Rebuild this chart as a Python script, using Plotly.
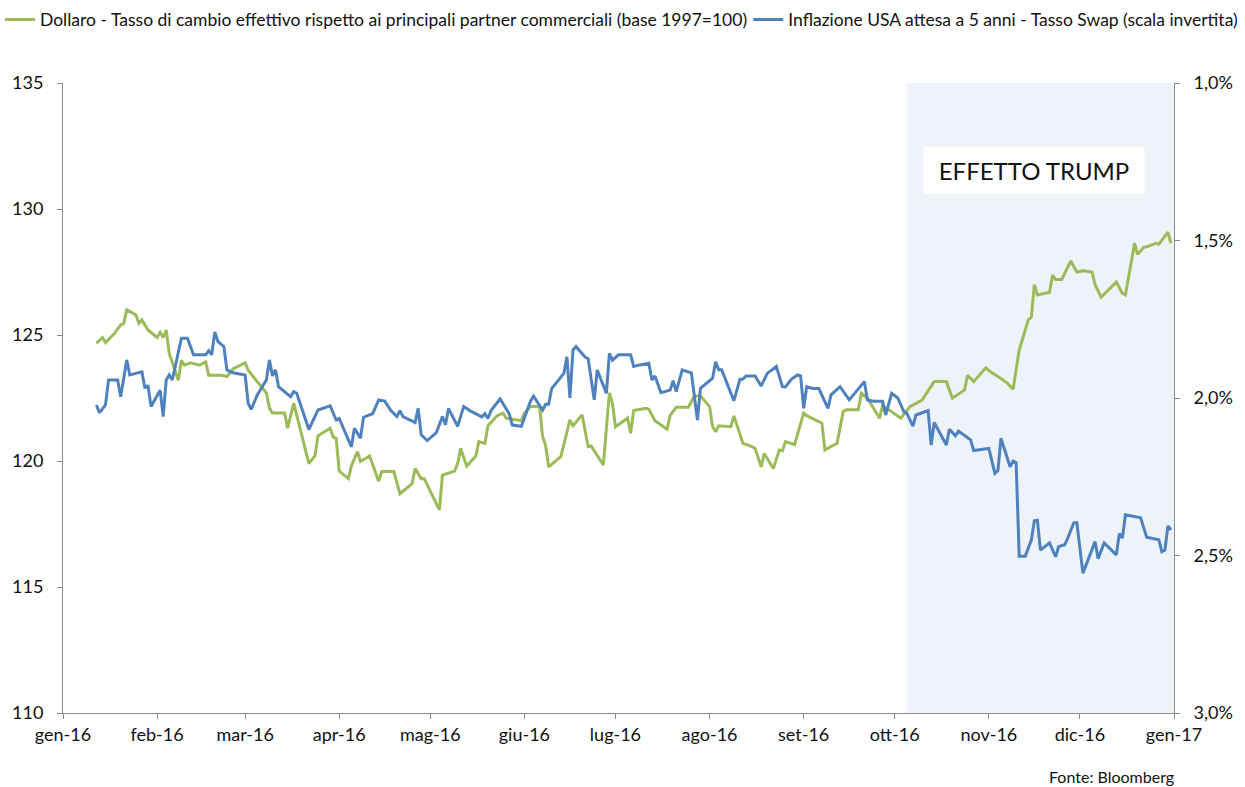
import plotly.graph_objects as go

# Dollar effective exchange rate index (base 1997=100), left axis
usd_days = [
    "01-12", "01-14", "01-15", "01-18", "01-20", "01-21", "01-22", "01-25", "01-26", "01-27",
    "01-29", "02-01", "02-02", "02-03", "02-04", "02-05", "02-08", "02-09", "02-10", "02-12",
    "02-15", "02-17", "02-18", "02-22", "02-24", "02-26", "03-01", "03-02", "03-04", "03-08",
    "03-09", "03-10", "03-14", "03-15", "03-17", "03-22", "03-24", "03-25", "03-29", "03-30",
    "03-31", "04-01", "04-04", "04-05", "04-07", "04-08", "04-11", "04-14", "04-15", "04-19",
    "04-21", "04-25", "04-26", "04-28", "04-29", "05-04", "05-05", "05-09", "05-10", "05-11",
    "05-13", "05-16", "05-17", "05-19", "05-20", "05-23", "05-25", "05-26", "05-31", "06-01",
    "06-03", "06-06", "06-07", "06-08", "06-09", "06-13", "06-16", "06-17", "06-20", "06-22",
    "06-23", "06-27", "06-29", "06-30", "07-01", "07-05", "07-06", "07-07", "07-11", "07-12",
    "07-14", "07-18", "07-19", "07-21", "07-25", "07-27", "07-29", "08-01", "08-02", "08-03",
    "08-04", "08-08", "08-09", "08-12", "08-15", "08-16", "08-18", "08-19", "08-22", "08-24",
    "08-25", "08-26", "08-29", "09-01", "09-02", "09-06", "09-07", "09-08", "09-12", "09-14",
    "09-15", "09-19", "09-20", "09-22", "09-26", "09-27", "09-29", "10-03", "10-06", "10-10",
    "10-14", "10-18", "10-20", "10-24", "10-25", "10-27", "10-31", "11-02", "11-04", "11-07",
    "11-09", "11-11", "11-14", "11-15", "11-16", "11-17", "11-21", "11-22", "11-23", "11-25",
    "11-28", "11-30", "12-02", "12-05", "12-06", "12-08", "12-13", "12-15", "12-16", "12-19",
    "12-20", "12-22", "12-23", "12-26", "12-27", "12-30", "12-31",
]
usd_index = [
    124.67, 124.9, 124.7, 125.07, 125.4, 125.46, 126.0, 125.8, 125.46, 125.6,
    125.2, 124.9, 125.1, 124.9, 125.2, 124.27, 123.2, 124.0, 123.8, 123.9,
    123.8, 123.94, 123.4, 123.4, 123.35, 123.65, 123.9, 123.6, 123.3, 122.7,
    122.1, 121.9, 121.9, 121.3, 122.3, 119.9, 120.2, 121.0, 121.3, 120.95,
    120.9, 119.6, 119.3, 119.8, 120.37, 119.98, 120.2, 119.2, 119.58, 119.58,
    118.7, 119.1, 119.7, 119.3, 119.3, 118.06, 119.44, 119.6, 119.9, 120.5,
    119.8, 120.2, 120.77, 120.7, 121.4, 121.8, 121.9, 121.7, 121.6, 121.9,
    122.16, 122.16, 120.97, 120.6, 119.77, 120.17, 121.63, 121.4, 121.83, 120.57,
    120.6, 119.84, 122.7, 122.3, 121.36, 121.7, 121.1, 122.0, 122.09, 122.05,
    121.6, 121.26, 121.8, 122.13, 122.13, 122.58, 122.58, 122.16, 121.36, 121.16,
    121.4, 121.36, 121.79, 120.7, 120.57, 120.5, 119.77, 120.3, 119.7, 120.44,
    120.4, 120.77, 120.65, 121.9, 121.8, 121.56, 121.5, 120.44, 120.7, 121.96,
    122.03, 122.03, 122.69, 122.5, 121.7, 122.2, 122.03, 121.7, 122.16, 122.42,
    123.15, 123.15, 122.49, 122.82, 123.4, 123.15, 123.7, 123.5, 123.35, 123.1,
    122.85, 124.4, 125.6, 125.7, 127.0, 126.59, 126.7, 127.38, 127.2, 127.2,
    127.94, 127.5, 127.55, 127.5, 127.0, 126.5, 127.1, 126.65, 126.59, 128.64,
    128.2, 128.48, 128.5, 128.64, 128.6, 129.08, 128.64,
]

# US 5-year inflation swap rate (%), right axis, inverted
swap_days = [
    "01-12", "01-13", "01-15", "01-16", "01-19", "01-20", "01-22", "01-23", "01-27", "01-28",
    "01-29", "01-30", "02-02", "02-03", "02-04", "02-05", "02-06", "02-09", "02-11", "02-13",
    "02-17", "02-18", "02-19", "02-20", "02-21", "02-23", "02-24", "02-26", "03-01", "03-02",
    "03-03", "03-05", "03-08", "03-09", "03-10", "03-11", "03-12", "03-16", "03-17", "03-18",
    "03-22", "03-25", "03-29", "03-31", "04-01", "04-05", "04-06", "04-08", "04-09", "04-12",
    "04-14", "04-16", "04-18", "04-20", "04-21", "04-22", "04-26", "04-27", "04-28", "04-30",
    "05-03", "05-05", "05-06", "05-07", "05-10", "05-12", "05-14", "05-18", "05-19", "05-20",
    "05-21", "05-24", "05-27", "05-28", "05-31", "06-03", "06-04", "06-07", "06-08", "06-09",
    "06-10", "06-14", "06-15", "06-16", "06-17", "06-18", "06-21", "06-22", "06-24", "06-25",
    "06-28", "06-29", "06-30", "07-02", "07-06", "07-07", "07-09", "07-12", "07-13", "07-14",
    "07-16", "07-19", "07-20", "07-21", "07-23", "07-26", "07-28", "07-29", "08-02", "08-03",
    "08-04", "08-05", "08-09", "08-11", "08-12", "08-13", "08-16", "08-18", "08-20", "08-23",
    "08-25", "08-26", "08-28", "08-30", "08-31", "09-01", "09-02", "09-04", "09-06", "09-09",
    "09-10", "09-13", "09-16", "09-21", "09-22", "09-24", "09-27", "09-28", "09-30", "10-02",
    "10-04", "10-05", "10-07", "10-08", "10-12", "10-13", "10-14", "10-18", "10-19", "10-21",
    "10-22", "10-26", "10-27", "10-31", "11-01", "11-03", "11-04", "11-05", "11-08", "11-09",
    "11-10", "11-11", "11-13", "11-15", "11-16", "11-17", "11-18", "11-21", "11-23", "11-24",
    "11-26", "11-27", "11-29", "11-30", "12-02", "12-06", "12-07", "12-09", "12-13", "12-14",
    "12-15", "12-16", "12-21", "12-23", "12-27", "12-28", "12-29", "12-30", "12-31",
]
swap_rate = [
    2.022, 2.047, 2.022, 1.943, 1.943, 1.996, 1.879, 1.927, 1.917, 1.969,
    1.96, 2.027, 1.975, 2.059, 1.943, 1.927, 1.943, 1.81, 1.81, 1.863,
    1.863, 1.85, 1.863, 1.79, 1.82, 1.837, 1.911, 1.92, 1.927, 2.017,
    2.036, 1.99, 1.943, 1.879, 1.93, 1.91, 1.964, 1.996, 1.98, 1.985,
    2.10, 2.038, 2.025, 2.07, 2.065, 2.155, 2.096, 2.128, 2.061, 2.05,
    2.006, 2.01, 2.04, 2.059, 2.04, 2.059, 2.078, 2.033, 2.117, 2.135,
    2.11, 2.059, 2.085, 2.033, 2.09, 2.027, 2.04, 2.06, 2.05, 2.065,
    2.04, 2.003, 2.05, 2.086, 2.09, 2.01, 1.994, 2.038, 2.02, 2.02,
    1.97, 1.922, 1.869, 2.0, 1.848, 1.837, 1.87, 1.875, 2.006, 1.911,
    1.985, 1.858, 1.88, 1.863, 1.863, 1.90, 1.895, 1.89, 1.943, 1.93,
    1.983, 1.975, 1.945, 1.98, 1.911, 1.92, 2.07, 1.969, 1.937, 1.885,
    1.91, 1.91, 2.009, 1.941, 1.94, 1.93, 1.93, 1.962, 1.922, 1.90,
    1.964, 1.965, 1.94, 1.927, 1.93, 2.033, 1.964, 1.97, 1.97, 2.033,
    1.99, 1.964, 2.006, 1.948, 2.006, 2.01, 2.01, 2.054, 1.985, 2.0,
    2.043, 2.049, 2.089, 2.054, 2.04, 2.149, 2.078, 2.149, 2.099, 2.12,
    2.105, 2.133, 2.167, 2.163, 2.16, 2.239, 2.23, 2.128, 2.218, 2.20,
    2.205, 2.502, 2.502, 2.451, 2.39, 2.388, 2.483, 2.46, 2.504, 2.472,
    2.466, 2.445, 2.396, 2.396, 2.556, 2.456, 2.51, 2.46, 2.498, 2.43,
    2.445, 2.371, 2.38, 2.442, 2.45, 2.488, 2.483, 2.406, 2.419,
]

month_ticks = [
    "2016-01-01", "2016-02-01", "2016-03-01", "2016-04-01", "2016-05-01", "2016-06-01",
    "2016-07-01", "2016-08-01", "2016-09-01", "2016-10-01", "2016-11-01", "2016-12-01",
    "2017-01-01",
]
month_labels = [
    "gen-16", "feb-16", "mar-16", "apr-16", "mag-16", "giu-16", "lug-16",
    "ago-16", "set-16", "ott-16", "nov-16", "dic-16", "gen-17",
]
left_ticks = [110, 115, 120, 125, 130, 135]
right_ticks = [1.0, 1.5, 2.0, 2.5, 3.0]
right_labels = ["1,0%", "1,5%", "2,0%", "2,5%", "3,0%"]

trump_start = "2016-10-05"
trump_end = "2017-01-01"

GREEN = "#9BBB59"
BLUE = "#4F81BD"
FONT = "Lato, 'Open Sans', sans-serif"
AXIS_GREY = "#8C8C8C"
TEXT = "#111111"

fig = go.Figure()

fig.add_trace(go.Scatter(
    x=["2016-" + d for d in usd_days], y=usd_index,
    mode="lines", line=dict(color=GREEN, width=3),
    name="Dollaro - Tasso di cambio effettivo rispetto ai principali partner commerciali (base 1997=100)",
    yaxis="y", legend="legend",
))
fig.add_trace(go.Scatter(
    x=["2016-" + d for d in swap_days], y=swap_rate,
    mode="lines", line=dict(color=BLUE, width=3),
    name="Inflazione USA attesa a 5 anni - Tasso Swap (scala invertita)",
    yaxis="y2", legend="legend2",
))

# highlighted post-election period
fig.add_vrect(x0=trump_start, x1=trump_end, fillcolor="#EEF3FA", opacity=1,
              line_width=0, layer="below")

fig.add_annotation(
    text="EFFETTO TRUMP", xref="paper", yref="paper", x=0.874, y=0.862,
    xanchor="center", yanchor="middle", showarrow=False,
    font=dict(family=FONT, size=24, color=TEXT),
    bgcolor="white", width=220, height=46, borderpad=0,
)
fig.add_annotation(
    text="Fonte: Bloomberg", xref="paper", yref="paper", x=1.002, y=-0.1,
    xanchor="right", yanchor="middle", showarrow=False,
    font=dict(family=FONT, size=16, color=TEXT),
)

legend_style = dict(
    orientation="h", xanchor="left", yref="container", y=0.998, yanchor="top",
    xref="container", font=dict(family=FONT, size=17.5, color=TEXT),
    itemwidth=30, bgcolor="rgba(0,0,0,0)",
)

fig.update_layout(
    width=1245, height=787,
    margin=dict(l=58, r=67, t=83, b=74),
    paper_bgcolor="white", plot_bgcolor="white",
    font=dict(family=FONT, size=18, color=TEXT),
    showlegend=True,
    legend=dict(legend_style, x=0.0),
    legend2=dict(legend_style, x=0.601),
    xaxis=dict(
        type="date", range=["2016-01-01", "2017-01-01"],
        tickmode="array", tickvals=month_ticks, ticktext=month_labels,
        showgrid=False, zeroline=False,
        showline=True, linecolor=AXIS_GREY, linewidth=1,
        ticks="outside", ticklen=5, tickcolor=AXIS_GREY,
        tickfont=dict(family=FONT, size=18, color=TEXT),
    ),
    yaxis=dict(
        range=[110, 135], tickmode="array", tickvals=left_ticks,
        showgrid=False, zeroline=False,
        showline=True, linecolor=AXIS_GREY, linewidth=1,
        ticks="outside", ticklen=5, tickcolor=AXIS_GREY,
        tickfont=dict(family=FONT, size=18, color=TEXT),
        ticklabelstandoff=10,
    ),
    yaxis2=dict(
        overlaying="y", side="right", range=[3.0, 1.0],
        tickmode="array", tickvals=right_ticks, ticktext=right_labels,
        showgrid=False, zeroline=False,
        showline=True, linecolor=AXIS_GREY, linewidth=1,
        ticks="outside", ticklen=5, tickcolor=AXIS_GREY,
        tickfont=dict(family=FONT, size=18, color=TEXT),
        ticklabelstandoff=10,
    ),
)

fig.write_html("out.html")
